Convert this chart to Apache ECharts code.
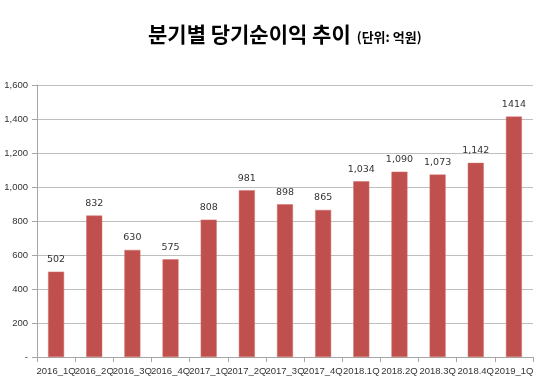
<!DOCTYPE html>
<html><head><meta charset="utf-8">
<script src="https://cdn.jsdelivr.net/npm/echarts@6/dist/echarts.min.js"></script>
<style>html,body{margin:0;padding:0;background:#fff}#c{width:540px;height:388px}</style>
</head><body><div id="c"></div>
<script>
const categories = ['2016_1Q','2016_2Q','2016_3Q','2016_4Q','2017_1Q','2017_2Q','2017_3Q','2017_4Q','2018.1Q','2018.2Q','2018.3Q','2018.4Q','2019_1Q'];
const values = [502, 832, 630, 575, 808, 981, 898, 865, 1034, 1090, 1073, 1142, 1414];
const valueLabels = ['502','832','630','575','808','981','898','865','1,034','1,090','1,073','1,142','1414'];
const titleMain = '분기별 당기순이익 추이';
const titleUnit = '(단위: 억원)';

const chart = echarts.init(document.getElementById('c'));
chart.setOption({
  animation: false,
  title: {
    text: '{a|' + titleMain + '}{s| }{b|' + titleUnit + '}',
    left: 143, top: 19,
    textStyle: {
      rich: {
        a: { fontFamily: 'Noto Sans CJK KR', fontWeight: 'bold', fontSize: 21, color: '#000' },
        s: { fontSize: 6, width: 6 },
        b: { fontFamily: 'Noto Sans CJK KR', fontWeight: 'bold', fontSize: 13, color: '#000', padding: [5,0,0,0] }
      }
    }
  },
  grid: { left: 37, right: 7, top: 85, bottom: 31 },
  xAxis: {
    type: 'category', data: categories,
    axisLine: { lineStyle: { color: '#a6a6a6' } },
    axisTick: { show: true, length: 5, lineStyle: { color: '#a6a6a6' } },
    axisLabel: { color: '#333', fontFamily: 'Liberation Sans', fontSize: 9.5, margin: 9, interval: 0 }
  },
  yAxis: {
    type: 'value', min: 0, max: 1600, interval: 200,
    axisLine: { show: true, lineStyle: { color: '#a6a6a6' } },
    axisTick: { show: true, length: 5, lineStyle: { color: '#a6a6a6' } },
    splitLine: { lineStyle: { color: '#bfbfbf' } },
    axisLabel: { color: '#333', fontFamily: 'Liberation Sans', fontSize: 9.5, margin: 9,
      formatter: v => v === 0 ? '-' : v.toLocaleString('en-US') }
  },
  series: [{
    type: 'bar', data: values, barWidth: 16,
    itemStyle: { color: '#c0504d', borderColor: '#d0706d', borderWidth: 0.5 },
    label: { show: true, position: 'top', distance: 7, color: '#333', fontFamily: 'DejaVu Sans', fontSize: 9.5,
      formatter: p => valueLabels[p.dataIndex] }
  }]
});
</script></body></html>
